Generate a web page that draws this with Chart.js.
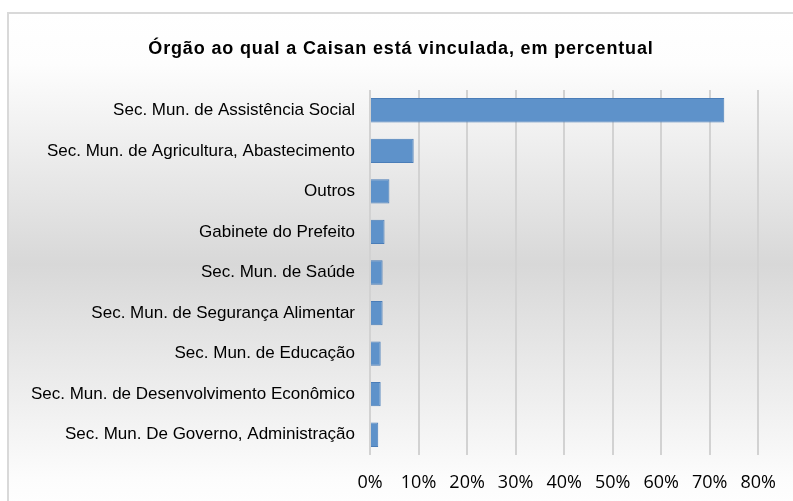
<!DOCTYPE html>
<html>
<head>
<meta charset="utf-8">
<script src="https://cdn.jsdelivr.net/npm/chart.js@4.4.1/dist/chart.umd.min.js"></script>
<style>
  html, body { margin: 0; padding: 0; background: #fff; }
  #moldura {
    position: absolute; left: 7px; top: 12px; width: 800px; height: 500px;
    border-top: 2px solid #d9d9d9; border-left: 2px solid #d9d9d9;
    background: linear-gradient(to bottom, #ffffff 0%, #fdfdfd 10%, #d8d8d8 50%, #fcfcfc 93%, #ffffff 100%);
  }
  #grafo { position: absolute; left: 0; top: 0; }
</style>
</head>
<body>
<div id="moldura"></div>
<canvas id="grafo" width="793" height="501"></canvas>
<script>
const TITULO = "Órgão ao qual a Caisan está vinculada, em percentual";

const orgaos = [
  "Sec. Mun. de Assistência Social",
  "Sec. Mun. de Agricultura, Abastecimento",
  "Outros",
  "Gabinete do Prefeito",
  "Sec. Mun. de Saúde",
  "Sec. Mun. de Segurança Alimentar",
  "Sec. Mun. de Educação",
  "Sec. Mun. de Desenvolvimento Econômico",
  "Sec. Mun. De Governo, Administração"
];

// percentual de municípios
const percentuais = [73, 9, 4, 3, 2.6, 2.6, 2.2, 2.2, 1.7];

const escalaX = [0, 10, 20, 30, 40, 50, 60, 70, 80];

// título desenhado à mão para poder espaçar as letras
const tituloEspacado = {
  id: "tituloEspacado",
  afterDraw(chart) {
    const c = chart.ctx;
    c.save();
    c.font = "bold 18px 'Liberation Sans', Arial, sans-serif";
    c.letterSpacing = "0.85px";
    c.fillStyle = "#000";
    c.textAlign = "center";
    c.textBaseline = "middle";
    c.fillText(TITULO, 401, 49);
    c.restore();
  }
};

const ctx = document.getElementById("grafo").getContext("2d");
new Chart(ctx, {
  type: "bar",
  data: {
    labels: orgaos,
    datasets: [{
      data: percentuais,
      backgroundColor: "#5e92ca",
      borderColor: "#4a7db8",
      borderWidth: 1,
      barPercentage: 0.6,
      categoryPercentage: 1
    }]
  },
  options: {
    indexAxis: "y",
    responsive: false,
    animation: false,
    layout: { padding: { left: 0, right: 33, top: 90, bottom: 0 } },
    plugins: {
      legend: { display: false },
      tooltip: { enabled: false },
      title: { display: false }
    },
    scales: {
      x: {
        min: 0,
        max: 80,
        afterBuildTicks: s => { s.ticks = escalaX.map(v => ({ value: v })); },
        afterFit: s => { s.height = 46; },
        grid: { color: "#d2d2d2", lineWidth: 2, drawTicks: false },
        border: { display: false },
        ticks: {
          padding: 17,
          color: "#000",
          font: { family: "'Open Sans', Lato, sans-serif", size: 18 },
          callback: v => v + "%"
        }
      },
      y: {
        afterFit: s => { s.width = 370; },
        grid: { display: false, drawTicks: false },
        border: { display: false },
        ticks: {
          padding: 15,
          color: "#000",
          font: { family: "'Liberation Sans', Arial, sans-serif", size: 17 }
        }
      }
    }
  },
  plugins: [tituloEspacado]
});
</script>
</body>
</html>
